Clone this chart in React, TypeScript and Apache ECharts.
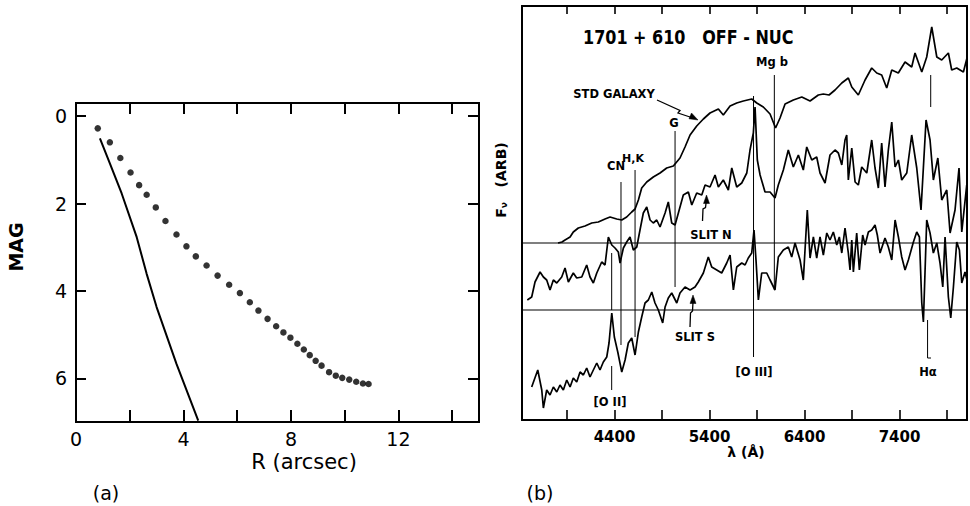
import React, { useEffect, useRef } from 'react';
import * as echarts from 'echarts';

// ---------- Panel (a): surface-brightness profile ----------
const R_DOTS = [0.81, 1.26, 1.65, 2.03, 2.35, 2.63, 2.97, 3.33, 3.74, 4.11, 4.46, 4.86, 5.27, 5.7, 6.1, 6.47, 6.79, 7.13, 7.45, 7.72, 7.98, 8.24, 8.48, 8.7, 8.92, 9.14, 9.42, 9.67, 9.91, 10.17, 10.43, 10.68, 10.89];
const MAG_DOTS = [0.28, 0.6, 0.96, 1.29, 1.58, 1.8, 2.09, 2.4, 2.71, 2.98, 3.21, 3.42, 3.65, 3.86, 4.05, 4.26, 4.45, 4.64, 4.81, 4.95, 5.07, 5.21, 5.34, 5.47, 5.6, 5.71, 5.86, 5.94, 5.99, 6.03, 6.08, 6.12, 6.13];
const R_LINE = [0.89, 1.26, 1.7, 2.26, 2.63, 3.0, 3.74, 4.55];
const MAG_LINE = [0.51, 1.08, 1.77, 2.77, 3.61, 4.37, 5.67, 6.97];
const A_X_MIN = 0;
const A_X_MAX = 15;
const A_Y_MIN = -0.3;
const A_Y_MAX = 7;
const A_X_TICKS = [2, 4, 6, 8, 10, 12, 14];
const A_X_LABELS = [0, 4, 8, 12];
const A_Y_TICKS = [0, 2, 4, 6];

// ---------- Panel (b): spectra (flux in arbitrary units) ----------
const STD_LAMBDA = [3805, 3847, 3879, 3932, 3966, 4019, 4089, 4160, 4229, 4300, 4353, 4423, 4476, 4528, 4581, 4616, 4651, 4686, 4739, 4808, 4879, 4949, 5019, 5089, 5142, 5195, 5265, 5335, 5405, 5493, 5545, 5616, 5686, 5756, 5844, 5897, 5966, 6037, 6095, 6142, 6195, 6282, 6371, 6458, 6545, 6598, 6658, 6721, 6792, 6861, 6897, 6966, 7037, 7107, 7160, 7212, 7265, 7318, 7387, 7458, 7528, 7563, 7634, 7686, 7739, 7792, 7844, 7914, 7949, 8002, 8072, 8110];
const STD_FLUX = [177, 178, 180, 183, 188, 192, 194, 197, 198, 201, 203, 201, 200, 203, 208, 211, 220, 232, 238, 243, 247, 252, 254, 262, 273, 285, 294, 301, 307, 311, 305, 314, 317, 319, 321, 317, 313, 306, 292, 302, 316, 320, 323, 319, 325, 326, 325, 330, 337, 342, 333, 325, 340, 352, 347, 345, 332, 350, 347, 358, 353, 367, 348, 363, 393, 363, 360, 367, 350, 352, 348, 362];

const N_LAMBDA = [3482, 3528, 3563, 3616, 3651, 3686, 3721, 3756, 3792, 3844, 3879, 3914, 3966, 4002, 4055, 4107, 4142, 4177, 4213, 4265, 4300, 4335, 4371, 4405, 4440, 4458, 4493, 4528, 4563, 4598, 4634, 4668, 4703, 4739, 4774, 4808, 4844, 4879, 4932, 4966, 5002, 5037, 5072, 5124, 5177, 5213, 5265, 5318, 5353, 5405, 5458, 5493, 5545, 5598, 5634, 5686, 5739, 5792, 5826, 5861, 5879, 5903, 5932, 5984, 6037, 6089, 6124, 6177, 6229, 6282, 6335, 6387, 6423, 6476, 6528, 6563, 6616, 6668, 6721, 6756, 6792, 6826, 6844, 6861, 6897, 6932, 6966, 7002, 7055, 7107, 7142, 7177, 7212, 7247, 7282, 7318, 7353, 7388, 7423, 7476, 7528, 7581, 7626, 7679, 7721, 7756, 7803, 7844, 7897, 7932, 7984, 8026, 8055, 8107];
const N_FLUX = [120, 123, 138, 148, 143, 140, 130, 140, 137, 143, 152, 138, 147, 142, 143, 155, 143, 137, 147, 158, 155, 183, 175, 172, 168, 157, 172, 178, 183, 170, 173, 190, 207, 213, 200, 197, 200, 193, 207, 218, 197, 195, 207, 225, 228, 215, 227, 225, 235, 233, 245, 233, 240, 230, 252, 233, 237, 247, 270, 287, 313, 260, 245, 228, 228, 222, 235, 250, 270, 253, 265, 250, 273, 260, 263, 247, 237, 265, 270, 267, 255, 280, 285, 240, 272, 238, 235, 253, 247, 280, 252, 232, 277, 233, 270, 298, 253, 260, 240, 247, 285, 252, 210, 300, 280, 240, 262, 220, 230, 187, 210, 252, 188, 235];

const S_LAMBDA = [3528, 3592, 3634, 3651, 3686, 3721, 3756, 3792, 3826, 3861, 3897, 3932, 3966, 4002, 4037, 4072, 4107, 4142, 4177, 4213, 4247, 4282, 4318, 4342, 4371, 4398, 4434, 4476, 4511, 4545, 4581, 4616, 4651, 4686, 4721, 4756, 4792, 4826, 4861, 4907, 4932, 4966, 5002, 5055, 5089, 5142, 5195, 5247, 5282, 5335, 5387, 5423, 5476, 5528, 5581, 5616, 5651, 5686, 5739, 5774, 5808, 5844, 5868, 5889, 5914, 5949, 6002, 6037, 6089, 6124, 6177, 6229, 6265, 6300, 6353, 6387, 6429, 6458, 6493, 6528, 6563, 6598, 6634, 6668, 6703, 6739, 6766, 6792, 6826, 6861, 6879, 6897, 6914, 6949, 6977, 7012, 7037, 7072, 7107, 7142, 7166, 7195, 7247, 7282, 7318, 7353, 7388, 7423, 7458, 7493, 7546, 7581, 7609, 7634, 7651, 7686, 7721, 7756, 7792, 7826, 7855, 7879, 7914, 7939, 7967, 8002, 8030, 8055, 8089, 8110];
const S_FLUX = [33, 50, 30, 12, 30, 25, 33, 28, 35, 30, 40, 33, 42, 38, 48, 45, 52, 43, 50, 57, 50, 58, 63, 77, 107, 83, 68, 48, 60, 77, 82, 65, 88, 103, 117, 120, 128, 117, 110, 97, 113, 122, 127, 117, 127, 133, 130, 133, 138, 147, 163, 153, 150, 147, 157, 165, 130, 153, 157, 155, 162, 167, 190, 160, 120, 147, 147, 140, 130, 163, 170, 173, 163, 177, 160, 140, 210, 162, 183, 162, 183, 165, 187, 180, 188, 175, 183, 167, 192, 167, 150, 180, 148, 187, 150, 185, 175, 188, 190, 195, 185, 167, 182, 173, 160, 200, 183, 163, 150, 160, 178, 188, 183, 117, 98, 200, 187, 167, 177, 157, 133, 183, 123, 102, 133, 178, 170, 137, 148, 140];

const B_X_TICKS = [3900, 4400, 4900, 5400, 5900, 6400, 6900, 7400, 7900];
const B_X_LABELS = [4400, 5400, 6400, 7400];
const B_X_MIN = 3426;
const B_X_MAX = 8110;
const B_Y_MIN = 0;
const B_Y_MAX = 414;

const BASELINES = [177, 110];
const FEATURE_LAMBDA = [4468, 4616, 4370, 4370, 5037, 5863, 6082, 7728, 7695];
const FEATURE_FROM = [238, 250, 167, 54, 289, 324, 345, 345, 100];
const FEATURE_TO = [75, 83, 110, 30, 133, 63, 130, 313, 62];
const HA_FOOT_LAMBDA = [7695, 7731];
const HA_FOOT_FLUX = [62, 62];

const FONT = '"DejaVu Sans", sans-serif';
const GA = { left: 76, top: 103, width: 403, height: 319 };
const GB = { left: 522, top: 6, width: 445, height: 414 };

function seg(axisIdx: number, xs: number[], ys: number[], width: number) {
  return {
    type: 'line',
    xAxisIndex: axisIdx,
    yAxisIndex: axisIdx,
    data: xs.map((x, i) => [x, ys[i]]),
    symbol: 'none',
    lineStyle: { color: '#000', width },
    silent: true,
  };
}
const lineSeries = (xs: number[], ys: number[], width: number) => seg(2, xs, ys, width);

export default function App() {
  const ref = useRef<HTMLDivElement>(null);
  useEffect(() => {
    const chart = echarts.init(ref.current!, null, { renderer: 'svg' });
    const axisLine = { show: true, onZero: false, lineStyle: { color: '#000', width: 2 } };
    const plain = (v: number) => String(v);
    const noTick = { show: false };
    const hidden = { show: false };

    const series: any[] = [
      {
        type: 'scatter',
        xAxisIndex: 0,
        yAxisIndex: 0,
        data: R_DOTS.map((r, i) => [r, MAG_DOTS[i]]),
        symbol: 'circle',
        symbolSize: 6.5,
        itemStyle: { color: '#000' },
        silent: true,
      },
      seg(0, R_LINE, MAG_LINE, 2),
      lineSeries(STD_LAMBDA, STD_FLUX, 1.7),
      lineSeries(N_LAMBDA, N_FLUX, 1.7),
      lineSeries(S_LAMBDA, S_FLUX, 1.7),
      ...BASELINES.map((b) => lineSeries([B_X_MIN, B_X_MAX], [b, b], 1.1)),
      ...FEATURE_LAMBDA.map((l, i) => lineSeries([l, l], [FEATURE_FROM[i], FEATURE_TO[i]], 1)),
      lineSeries(HA_FOOT_LAMBDA, HA_FOOT_FLUX, 1),
    ];

    const txt = (text: string, x: number, y: number, size: number, weight = 'bold', align = 'center', rotation = 0, scaleX = 1) => ({
      type: 'text',
      x,
      y,
      rotation,
      scaleX,
      silent: true,
      style: { text, fill: '#000', fontSize: size, fontWeight: weight, fontFamily: FONT, align, verticalAlign: 'middle' },
    });
    const poly = (points: number[][]) => ({
      type: 'polyline',
      silent: true,
      shape: { points },
      style: { stroke: '#000', lineWidth: 1.3, fill: 'none' },
    });
    const tri = (points: number[][]) => ({
      type: 'polygon',
      silent: true,
      shape: { points },
      style: { fill: '#000', stroke: '#000', lineWidth: 0.5 },
    });

    const graphic: any[] = [
      txt('MAG', 16, 247, 19, 'bold', 'center', Math.PI / 2),
      txt('R (arcsec)', 304, 462, 21, 'normal'),
      txt('(a)', 106, 493, 19, 'normal'),
      txt('(b)', 540, 493, 19, 'normal'),
      txt('λ (Å)', 746, 452, 14, 'bold'),
      txt('1701 + 610   OFF - NUC', 583, 37, 20, 'bold', 'left', 0, 0.8),
      txt('STD GALAXY', 614, 94, 11.5, 'bold'),
      txt('Mg b', 772, 62, 11.5, 'bold'),
      txt('G', 674, 123, 11.5, 'bold'),
      txt('CN', 616, 166, 11.5, 'bold'),
      txt('H,K', 633, 158, 11, 'bold'),
      txt('SLIT N', 711, 235, 11.5, 'bold'),
      txt('SLIT S', 695, 337, 11.5, 'bold'),
      txt('[O II]', 610, 402, 11.5, 'bold'),
      txt('[O III]', 754, 372, 11.5, 'bold'),
      txt('Hα', 928, 372, 11.5, 'bold'),
      {
        type: 'text',
        x: 501,
        y: 180,
        rotation: Math.PI / 2,
        silent: true,
        style: {
          text: '{f|F}{v|ν}{f|   (ARB)}',
          fill: '#000',
          align: 'center',
          verticalAlign: 'middle',
          rich: {
            f: { fontSize: 14, fontWeight: 'bold', fontFamily: FONT, fill: '#000' },
            v: { fontSize: 9, fontWeight: 'bold', fontFamily: FONT, fill: '#000', verticalAlign: 'bottom', padding: [6, 0, 0, 0] },
          },
        },
      },
      poly([[657, 100], [680, 110.5], [678, 113], [693, 118]]),
      tri([[698, 120], [689, 118.8], [691.5, 113]]),
      poly([[702.5, 221], [703, 209], [705.5, 207.5], [706.3, 201]]),
      tri([[706.5, 195], [703.5, 203.5], [709.5, 203.5]]),
      poly([[690, 327], [690.5, 313], [692.5, 311], [693, 302]]),
      tri([[693, 295], [690, 303.5], [696, 303.5]]),
    ];

    // thin helper grids sitting just outside each frame edge; their axes' outward ticks point into the box
    const grids = [
      { ...GA, show: false },
      { ...GB, show: false },
      { left: GA.left, width: GA.width, top: GA.top + GA.height, height: 1, show: false }, // 2: (a) bottom edge
      { left: GA.left, width: GA.width, top: GA.top - 1, height: 1, show: false }, // 3: (a) top edge
      { left: GA.left - 1, width: 1, top: GA.top, height: GA.height, show: false }, // 4: (a) left edge
      { left: GA.left + GA.width, width: 1, top: GA.top, height: GA.height, show: false }, // 5: (a) right edge
      { left: GB.left, width: GB.width, top: GB.top + GB.height, height: 1, show: false }, // 6: (b) bottom edge
      { left: GB.left, width: GB.width, top: GB.top - 1, height: 1, show: false }, // 7: (b) top edge
    ];
    const dummy = (gridIndex: number) => ({ gridIndex, type: 'value', min: 0, max: 1, show: false });
    const tickX = (gridIndex: number, min: number, max: number, position: string, vals: number[], len: number, w: number) => ({
      gridIndex, type: 'value', min, max, position,
      axisLine, splitLine: hidden, axisLabel: hidden,
      axisTick: { show: true, inside: false, length: len, customValues: vals, lineStyle: { color: '#000', width: w } },
    });
    const tickY = (gridIndex: number, min: number, max: number, position: string, vals: number[], len: number, w: number) => ({
      gridIndex, type: 'value', min, max, inverse: true, position,
      axisLine, splitLine: hidden, axisLabel: hidden,
      axisTick: { show: true, inside: false, length: len, customValues: vals, lineStyle: { color: '#000', width: w } },
    });

    chart.setOption({
      animation: false,
      backgroundColor: '#fff',
      grid: grids,
      xAxis: [
        {
          gridIndex: 0, type: 'value', min: A_X_MIN, max: A_X_MAX, position: 'bottom',
          axisLine, splitLine: hidden, axisTick: noTick,
          axisLabel: { show: true, customValues: A_X_LABELS, formatter: plain, color: '#000', fontSize: 19, fontFamily: FONT, margin: 7 },
        },
        {
          gridIndex: 0, type: 'value', min: A_X_MIN, max: A_X_MAX, position: 'top',
          axisLine, splitLine: hidden, axisTick: noTick, axisLabel: hidden,
        },
        {
          gridIndex: 1, type: 'value', min: B_X_MIN, max: B_X_MAX, position: 'bottom',
          axisLine, splitLine: hidden, axisTick: noTick,
          axisLabel: { show: true, customValues: B_X_LABELS, formatter: plain, color: '#000', fontSize: 15, fontWeight: 'bold', fontFamily: FONT, margin: 9 },
        },
        {
          gridIndex: 1, type: 'value', min: B_X_MIN, max: B_X_MAX, position: 'top',
          axisLine, splitLine: hidden, axisTick: noTick, axisLabel: hidden,
        },
        tickX(2, A_X_MIN, A_X_MAX, 'top', A_X_TICKS, 12, 2),
        tickX(3, A_X_MIN, A_X_MAX, 'bottom', A_X_TICKS, 11, 2),
        dummy(4),
        dummy(5),
        tickX(6, B_X_MIN, B_X_MAX, 'top', B_X_TICKS, 10, 1.6),
        tickX(7, B_X_MIN, B_X_MAX, 'bottom', B_X_TICKS, 8, 1.6),
      ],
      yAxis: [
        {
          gridIndex: 0, type: 'value', min: A_Y_MIN, max: A_Y_MAX, inverse: true, position: 'left',
          axisLine, splitLine: hidden, axisTick: noTick,
          axisLabel: { show: true, customValues: A_Y_TICKS, formatter: plain, color: '#000', fontSize: 19, fontFamily: FONT, margin: 9 },
        },
        {
          gridIndex: 0, type: 'value', min: A_Y_MIN, max: A_Y_MAX, inverse: true, position: 'right',
          axisLine, splitLine: hidden, axisTick: noTick, axisLabel: hidden,
        },
        {
          gridIndex: 1, type: 'value', min: B_Y_MIN, max: B_Y_MAX, position: 'left',
          axisLine, splitLine: hidden, axisTick: noTick, axisLabel: hidden,
        },
        {
          gridIndex: 1, type: 'value', min: B_Y_MIN, max: B_Y_MAX, position: 'right',
          axisLine, splitLine: hidden, axisTick: noTick, axisLabel: hidden,
        },
        dummy(2),
        dummy(3),
        tickY(4, A_Y_MIN, A_Y_MAX, 'right', A_Y_TICKS, 10, 2),
        tickY(5, A_Y_MIN, A_Y_MAX, 'left', A_Y_TICKS, 11, 2),
        dummy(6),
        dummy(7),
      ],
      series,
      graphic,
    });

    return () => chart.dispose();
  }, []);
  return (
    <div
      ref={ref}
      style={{ position: 'absolute', left: 0, top: 0, width: 970, height: 506, background: '#fff' }}
    />
  );
}
